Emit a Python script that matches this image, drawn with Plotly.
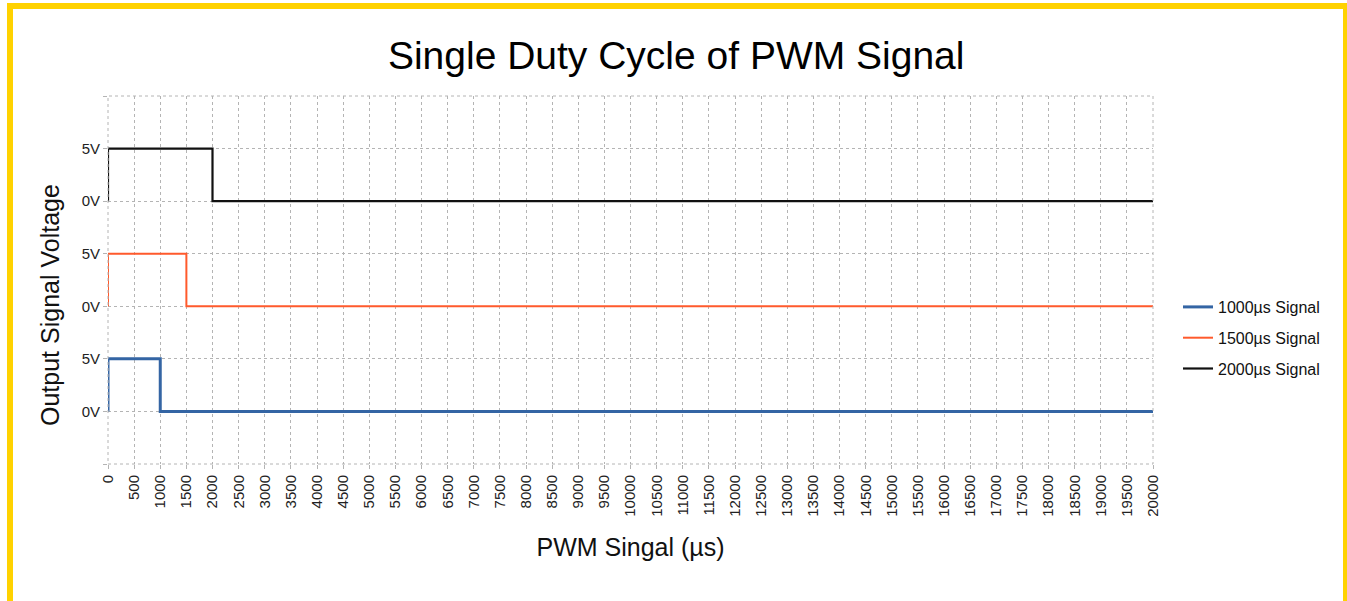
import plotly.graph_objects as go

# ---- data ----
series_names = ["1000µs Signal", "1500µs Signal", "2000µs Signal"]
signal_1000_t = [0, 0, 1000, 1000, 20000]
signal_1000_v = [0, 5, 5, 0, 0]
signal_1500_t = [0, 0, 1500, 1500, 20000]
signal_1500_v = [0, 5, 5, 0, 0]
signal_2000_t = [0, 0, 2000, 2000, 20000]
signal_2000_v = [0, 5, 5, 0, 0]
x_ticks = list(range(0, 20001, 500))
y_tickvals = [-5, 0, 5, 10, 15, 20, 25, 30]
y_ticktext = ["", "0V", "5V", "0V", "5V", "0V", "5V", ""]

# ---- styling ----
offsets = [0, 10, 20]
colors = ["#3465a4", "#ff5a2c", "#111111"]
widths = [3, 2, 2.2]
ts = [signal_1000_t, signal_1500_t, signal_2000_t]
vs = [signal_1000_v, signal_1500_v, signal_2000_v]

W, H = 1347, 601
L, R, T, B = 108, 194, 96, 137
pw, ph = W - L - R, H - T - B

def px2x(px):
    return (px - L) / pw

def py2y(py):
    return (H - B - py) / ph

fig = go.Figure()
for i in range(3):
    fig.add_trace(go.Scatter(
        x=ts[i], y=[v + offsets[i] for v in vs[i]], mode="lines",
        name=series_names[i], legendgroup=str(i),
        line=dict(color=colors[i], width=widths[i]),
    ))

grid = "#b4b4b4"

# yellow frame
fig.add_shape(type="rect", xref="paper", yref="paper", layer="below",
              x0=px2x(7), x1=px2x(1360), y0=py2y(3), y1=py2y(700),
              fillcolor="#FFD200", line=dict(width=0))
fig.add_shape(type="rect", xref="paper", yref="paper", layer="below",
              x0=px2x(13), x1=px2x(1343), y0=py2y(9), y1=py2y(700),
              fillcolor="white", line=dict(width=0))
# dotted plot-area frame
fig.add_shape(type="rect", xref="paper", yref="paper", layer="above",
              x0=0, x1=1, y0=0, y1=1,
              line=dict(color=grid, width=1, dash="dot"))

# y-axis title as annotation (positioned like the reference)
fig.add_annotation(text="Output Signal Voltage", xref="paper", yref="paper",
                   x=px2x(50), y=py2y(305), xanchor="center", yanchor="middle",
                   textangle=-90, showarrow=False,
                   font=dict(size=25, color="#111"))

fig.update_layout(
    width=W, height=H,
    margin=dict(l=L, r=R, t=T, b=B),
    paper_bgcolor="white", plot_bgcolor="white",
    font=dict(family="Liberation Sans, Arial, sans-serif", color="#111"),
    title=dict(text="Single Duty Cycle of PWM Signal", x=0.502, xanchor="center",
               y=1 - 55 / H, yanchor="middle",
               font=dict(size=39, color="#000")),
    legend=dict(x=px2x(1178), xanchor="left", y=py2y(290), yanchor="top",
                traceorder="grouped", tracegroupgap=7,
                font=dict(size=16, color="#111"), bgcolor="rgba(0,0,0,0)",
                itemwidth=30),
    xaxis=dict(range=[0, 20000], tickvals=x_ticks, ticktext=[str(v) for v in x_ticks],
               tickangle=-90, showgrid=True, gridcolor=grid, griddash="dot",
               zeroline=False, showline=False, ticks="outside", ticklen=4,
               tickcolor=grid, tickfont=dict(size=15, color="#222"),
               title=dict(text="PWM Singal (µs)", font=dict(size=25, color="#111"),
                          standoff=22)),
    yaxis=dict(range=[-5, 30], tickvals=y_tickvals, ticktext=y_ticktext,
               showgrid=True, gridcolor=grid, griddash="dot",
               zeroline=False, showline=False, ticks="outside", ticklen=4,
               tickcolor=grid, tickfont=dict(size=15, color="#222")),
)

fig.write_html("out.html", post_script="document.body.style.margin='0';",
               config={"displayModeBar": False})
